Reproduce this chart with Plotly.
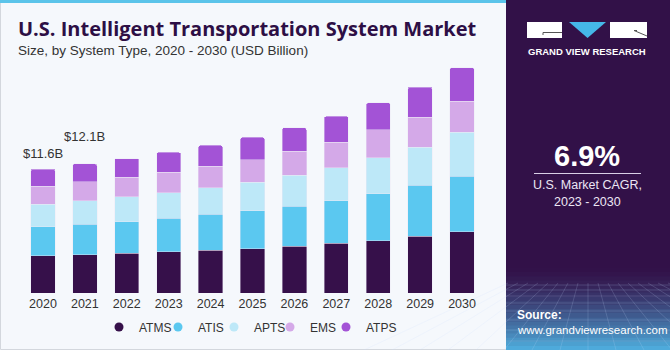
import plotly.graph_objects as go

years = ["2020", "2021", "2022", "2023", "2024", "2025", "2026", "2027", "2028", "2029", "2030"]
atms = [3.49, 3.58, 3.74, 3.86, 4.02, 4.12, 4.36, 4.64, 4.89, 5.29, 5.73]
atis = [2.71, 2.84, 2.93, 3.12, 3.33, 3.58, 3.74, 3.99, 4.40, 4.77, 5.17]
apts = [2.12, 2.19, 2.34, 2.40, 2.50, 2.68, 2.90, 3.09, 3.34, 3.59, 4.12]
ems = [1.65, 1.81, 1.81, 1.90, 1.99, 2.09, 2.28, 2.37, 2.62, 2.81, 2.94]
atps = [1.63, 1.66, 1.75, 1.87, 1.96, 2.09, 2.18, 2.43, 2.53, 2.81, 3.11]
series_names = ["ATMS", "ATIS", "APTS", "EMS", "ATPS"]
label_years = ["2020", "2021"]
label_offsets = [16, 27]

colors = ["#36104a", "#5bc8f0", "#bde8f8", "#d4a9e8", "#a353d6"]
series = [atms, atis, apts, ems, atps]
legend_widths = [14, 11, 11, 11, 40]

W, H = 670, 350
L, R, T, B = 22, 187, 60, 57
PW, PH = W - L - R, H - T - B


def px(x):
    return (x - L) / PW


def py(y):
    return (H - B - y) / PH


fig = go.Figure()
for name, vals, c in zip(series_names, series, colors):
    fig.add_trace(go.Bar(x=years, y=vals, name=name,
                         marker=dict(color=c, line=dict(color="rgba(235,230,245,0.7)", width=0.6)),
                         showlegend=False))
for name, c, lw in zip(series_names, colors, legend_widths):
    fig.add_trace(go.Scatter(x=[years[0]], y=[None], mode="markers", name=name, legendwidth=lw,
                             marker=dict(size=9, color=c, symbol="circle")))

totals = [sum(v) for v in zip(*series)]
annotations = []
for yr, off in zip(label_years, label_offsets):
    i = years.index(yr)
    annotations.append(dict(x=i, y=totals[i], xref="x", yref="y", text=f"${totals[i]:.1f}B",
                            showarrow=False, yanchor="middle", yshift=off,
                            font=dict(size=13, color="#333333", family="Liberation Sans")))

# Title / subtitle
annotations.append(dict(x=px(16), y=py(29), xref="paper", yref="paper", xanchor="left", yanchor="middle",
                        text="<b>U.S. Intelligent Transportation System Market</b>", showarrow=False,
                        font=dict(size=20, color="#2d0f45", family="Open Sans", weight=800)))
annotations.append(dict(x=px(16), y=py(50), xref="paper", yref="paper", xanchor="left", yanchor="middle",
                        text="Size, by System Type, 2020 - 2030 (USD Billion)", showarrow=False,
                        font=dict(size=13.5, color="#333333", family="Liberation Sans")))
# Right panel texts
annotations.append(dict(x=px(587), y=py(52), xref="paper", yref="paper", xanchor="center", yanchor="middle",
                        text="<b>GRAND VIEW RESEARCH</b>", showarrow=False,
                        font=dict(size=9.5, color="#ffffff", family="Liberation Sans")))
annotations.append(dict(x=px(587), y=py(156), xref="paper", yref="paper", xanchor="center", yanchor="middle",
                        text="<b>6.9%</b>", showarrow=False,
                        font=dict(size=29, color="#ffffff", family="Liberation Sans")))
annotations.append(dict(x=px(587), y=py(185), xref="paper", yref="paper", xanchor="center", yanchor="middle",
                        text="U.S. Market CAGR,", showarrow=False,
                        font=dict(size=12.5, color="#ece6f4", family="Liberation Sans")))
annotations.append(dict(x=px(587), y=py(202), xref="paper", yref="paper", xanchor="center", yanchor="middle",
                        text="2023 - 2030", showarrow=False,
                        font=dict(size=12.5, color="#ece6f4", family="Liberation Sans")))
annotations.append(dict(x=px(515), y=py(315), xref="paper", yref="paper", xanchor="left", yanchor="middle",
                        text="<b>Source:</b>", showarrow=False,
                        font=dict(size=12, color="#ffffff", family="Liberation Sans")))
annotations.append(dict(x=px(515), y=py(330), xref="paper", yref="paper", xanchor="left", yanchor="middle",
                        text="www.grandviewresearch.com", showarrow=False,
                        font=dict(size=11.5, color="#ffffff", family="Liberation Sans")))

shapes = []


def rect(x0, y0, x1, y1, fill, line=None, layer="below", lw=0):
    shapes.append(dict(type="rect", xref="paper", yref="paper", x0=px(x0), x1=px(x1), y0=py(y0), y1=py(y1),
                       fillcolor=fill, line=dict(color=line or fill, width=lw), layer=layer))


def seg(x0, y0, x1, y1, color, width=1, layer="below"):
    shapes.append(dict(type="line", xref="paper", yref="paper", x0=px(x0), x1=px(x1), y0=py(y0), y1=py(y1),
                       line=dict(color=color, width=width), layer=layer))


# card border
rect(0.5, 0.5, 669.5, 349.5, "#f5f8fc", line="#d3d7dd", lw=1)
# top cyan strip
rect(0, 0, 506, 3, "#5bc4ea")
# right panel
rect(506, 0, 670, 350, "#321148")


def hexmix(a, b, t):
    a = [int(a[i:i + 2], 16) for i in (1, 3, 5)]
    b = [int(b[i:i + 2], 16) for i in (1, 3, 5)]
    return "#" + "".join(f"{round(a[k] + (b[k] - a[k]) * t):02x}" for k in range(3))


nb = 20
y_start, y_end = 268, 350
for k in range(nb):
    t = (k + 0.5) / nb
    c = hexmix("#321148", "#4fb0e0", t ** 1.4)
    y0 = y_start + (y_end - y_start) * k / nb
    y1 = y_start + (y_end - y_start) * (k + 1) / nb
    rect(506, y0, 670, y1 + 0.5, c)
# perspective grid
for yy in [285, 290, 296, 303, 311, 320, 330, 341]:
    seg(506, yy, 670, yy, "rgba(200,220,255,0.22)", 0.8)
for k in range(-8, 9):
    xtop = 588 + k * 10
    xbot = 588 + k * 28
    seg(xtop, 283, xbot, 350, "rgba(200,220,255,0.22)", 0.8)

# logo
rect(527, 22, 562, 38, "#ffffff", layer="above")
rect(610, 22, 647, 38, "#ffffff", layer="above")
shapes.append(dict(type="path", xref="paper", yref="paper", layer="above",
                   path=f"M {px(569)} {py(22)} L {px(606)} {py(22)} L {px(587.5)} {py(38)} Z",
                   fillcolor="#45b7e8", line=dict(width=0)))
seg(543, 32.5, 562, 32.5, "#555555", 1, "above")
seg(543, 32.5, 543, 35, "#555555", 1, "above")
seg(634, 30.5, 647, 36, "#555555", 1, "above")
seg(634, 30.5, 637, 30.5, "#555555", 1, "above")
# divider line under 6.9%
seg(534, 173.5, 641, 173.5, "#d8cfe6", 1.2, "above")

fig.update_layout(
    width=W, height=H,
    margin=dict(l=L, r=R, t=T, b=B, autoexpand=False),
    barmode="stack", bargap=0.42, barcornerradius=2,
    paper_bgcolor="#ffffff", plot_bgcolor="rgba(0,0,0,0)",
    xaxis=dict(type="category", categoryorder="array", categoryarray=years, range=[-0.5, len(years) - 0.5],
               showgrid=False, showline=False, zeroline=False, ticks="", ticklabelstandoff=1, automargin=False,
               tickfont=dict(size=12.5, color="#333333", family="Liberation Sans")),
    yaxis=dict(visible=False, range=[0, PH / 10.69], automargin=False),
    legend=dict(orientation="h", xref="container", yref="container", x=99 / W, y=1 - 327 / H,
                xanchor="left", yanchor="middle", traceorder="normal",
                entrywidthmode="pixels", bgcolor="rgba(0,0,0,0)",
                font=dict(size=12, color="#333333", family="Liberation Sans")),
    annotations=annotations, shapes=shapes,
    showlegend=True,
)

fig.write_html("out.html")
